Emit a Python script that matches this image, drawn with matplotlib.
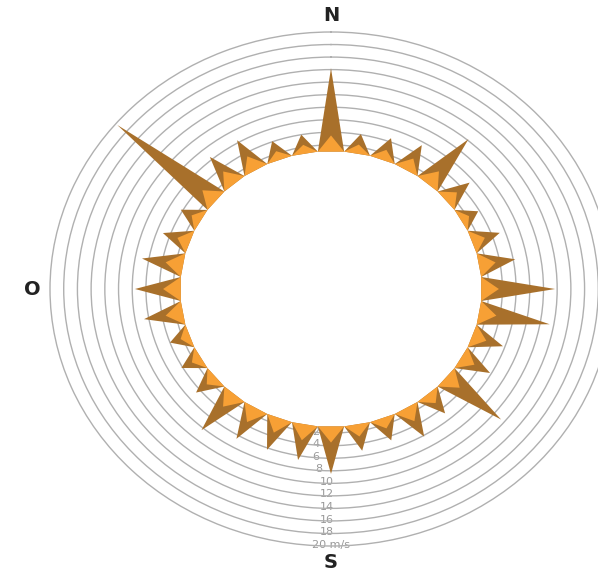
import numpy as np
import matplotlib.pyplot as plt

# wind speed (m/s) per direction, every 10 degrees clockwise from north
directions = np.arange(0, 360, 10)
speeds = [14.2, 4.1, 4.6, 5.5, 10.2, 5.4, 3.8, 5.2, 6.3, 11.7,
          11.4, 5.7, 5.8, 11.4, 4.9, 6.2, 4.7, 5.2, 8.5, 6.7,
          6.3, 6.6, 8.4, 4.7, 4.2, 4.0, 6.7, 7.6, 7.0, 5.1,
          4.3, 19.7, 6.5, 6.4, 4.1, 4.0]
ring_values = [2, 4, 6, 8, 10, 12, 14, 16, 18, 20]
ring_labels = ["2", "4", "6", "8", "10", "12", "14", "16", "18", "20 m/s"]
compass = {"N": 0, "S": 180, "O": 270}

hole = 1.0          # speed where the white centre ends
dark = "#a8702b"
light = "#f7a035"
grid_col = "#b0b0b0"

fig = plt.figure(figsize=(5.98, 5.72), dpi=100)
ax = fig.add_axes([50 / 598, 26 / 572, 562 / 598, 514 / 572], projection="polar")
ax.set_aspect("auto")
ax.set_theta_zero_location("N")
ax.set_theta_direction(-1)
ax.set_rorigin(-21)
ax.set_ylim(0, 20)

ax.set_xticks([])
ax.set_yticks(ring_values[:-1])
ax.set_yticklabels([])
ax.tick_params(axis="y", length=0)
ax.yaxis.grid(True, color=grid_col, linewidth=1)
ax.spines["polar"].set_color(grid_col)
ax.spines["polar"].set_linewidth(1)
for s in ["inner", "start", "end"]:
    ax.spines[s].set_visible(False)
    ax.spines[s].set_color("none")
    ax.spines[s].set_linewidth(0)

# ring labels below the centre
offsets = [-11, -11, -11, -9, -3, -3, -3, -3, -3, 0]
for v, lab, dx in zip(ring_values, ring_labels, offsets):
    ax.annotate(lab, xy=(np.pi, v), xytext=(dx, 1), textcoords="offset points",
                ha="center", va="center", fontsize=8, color="#999999", zorder=1)

half = np.deg2rad(5)
for d, v in zip(directions, speeds):
    t = np.deg2rad(d)
    ax.fill([t - half, t, t + half], [hole, v, hole], color=dark, lw=0, zorder=3)
    h = hole + min(2.5, 0.45 * (v - hole))
    ax.fill([t - half, t, t + half], [hole, h, hole], color=light, lw=0, zorder=4)

for name, ang in compass.items():
    ax.text(np.deg2rad(ang), 22.6, name, ha="center", va="center",
            fontsize=14, fontweight="bold", color="#222222", clip_on=False)

fig.savefig("out.png", dpi=100)
